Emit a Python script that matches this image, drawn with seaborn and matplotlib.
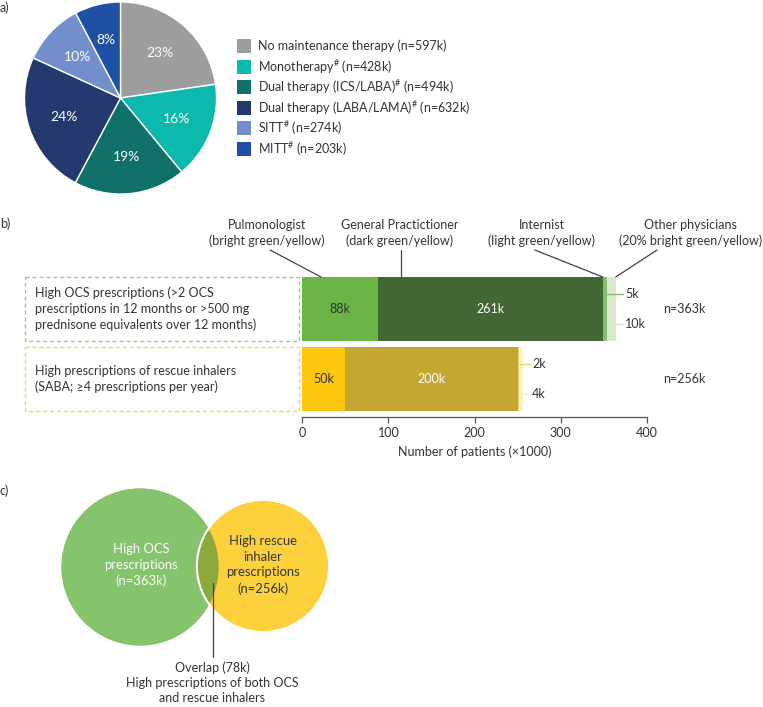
import matplotlib
matplotlib.use("Agg")
import matplotlib.pyplot as plt
from matplotlib.patches import Circle, Rectangle
import numpy as np
import pandas as pd
import seaborn as sns

# a) tratamiento de mantenimiento (n en miles)
therapy_labels = ["No maintenance therapy", "Monotherapy$^{\\#}$", "Dual therapy (ICS/LABA)$^{\\#}$",
                  "Dual therapy (LABA/LAMA)$^{\\#}$", "SITT$^{\\#}$", "MITT$^{\\#}$"]
therapy_n = [597, 428, 494, 632, 274, 203]
therapy_colors = ["#9d9d9d", "#0db9ad", "#10716a", "#243a6e", "#718fcb", "#2050a4"]

# b) prescripciones por medico (miles)
rows = ["High OCS", "High SABA"]
row_text = ["High OCS prescriptions (>2 OCS\nprescriptions in 12 months or >500 mg\nprednisone equivalents over 12 months)",
            "High prescriptions of rescue inhalers\n(SABA; \u22654 prescriptions per year)"]
row_totals = [363, 256]
pulmonologist = [88, 50]
general_pract = [261, 200]
internist = [5, 2]
other_phys = [10, 4]
physician_labels = ["Pulmonologist\n(bright green/yellow)", "General Practictioner\n(dark green/yellow)",
                    "Internist\n(light green/yellow)", "Other physicians\n(20% bright green/yellow)"]
green_cols = ["#6bb547", "#436734", "#86bb70", "#d7eacd"]
yellow_cols = ["#fdc70f", "#c4a633", "#eed27a", "#fcf1c6"]
x_ticks = [0, 100, 200, 300, 400]

# c) solapamiento
venn_n = [363, 256]
overlap_n = 78

sns.set_style("white")
plt.rcParams['font.family'] = ['Lato', 'DejaVu Sans']
plt.rcParams['mathtext.fontset'] = 'custom'
plt.rcParams['mathtext.rm'] = 'Lato'
txt = "#333333"
fs = 9

W, H = 763, 707
fig = plt.figure(figsize=(W / 100, H / 100), dpi=100)


def box(left, top, width, height):
    return [left / W, 1 - (top + height) / H, width / W, height / H]


# capa de fondo en pixeles
ov = fig.add_axes([0, 0, 1, 1])
ov.set_xlim(0, W)
ov.set_ylim(H, 0)
ov.axis("off")

ov.text(0, 8, "a)", fontsize=fs, color=txt, va="center")
ov.text(0, 224, "b)", fontsize=fs, color=txt, va="center")
ov.text(0, 491, "c)", fontsize=fs, color=txt, va="center")

# ---- a) pie
ax_pie = fig.add_axes(box(23.5, 1, 194, 194))
ax_pie.pie(therapy_n, colors=therapy_colors, startangle=90, counterclock=False,
           autopct=lambda p: f"{p:.0f}%", pctdistance=0.62,
           textprops={"color": "white", "fontsize": 10},
           wedgeprops={"edgecolor": "white", "linewidth": 1})
ax_pie.set_xlim(-1.01, 1.01)
ax_pie.set_ylim(-1.01, 1.01)

for i, (lab, n, c) in enumerate(zip(therapy_labels, therapy_n, therapy_colors)):
    yc = 46 + i * 20.6
    ov.add_patch(Rectangle((237, yc - 7), 14, 14, color=c, lw=0))
    ov.text(258, yc, f"{lab} (n={n}k)", fontsize=fs, color=txt, va="center")

# ---- b) barras apiladas
ax = fig.add_axes(box(302.3, 277, 344.4, 140))
ax.set_facecolor("none")
layers = [pulmonologist, general_pract, internist, other_phys]
cum = np.cumsum(layers, axis=0)
for i in range(3, -1, -1):
    df = pd.DataFrame({"row": rows, "value": cum[i]})
    sns.barplot(data=df, x="value", y="row", hue="row", palette=[green_cols[i], yellow_cols[i]],
                orient="h", width=0.914, saturation=1, errorbar=None, legend=False,
                linewidth=0, ax=ax)
ax.set_xlim(0, 400)
ax.set_ylim(1.543, -0.457)
ax.set_yticks([])
ax.set_ylabel("")
ax.set_xticks(x_ticks)
ax.set_xlabel("Number of patients (\u00d71000)", fontsize=fs, color=txt, labelpad=5)
for s in ["top", "right", "left"]:
    ax.spines[s].set_visible(False)
ax.spines["bottom"].set_color("#555555")
ax.spines["bottom"].set_linewidth(0.9)
ax.tick_params(axis="x", direction="out", length=4, width=0.9, color="#555555",
               labelsize=fs, labelcolor=txt, pad=3, bottom=True)

# etiquetas de segmentos
for r in range(2):
    cols = [green_cols, yellow_cols][r]
    ax.text(pulmonologist[r] / 2, r, f"{pulmonologist[r]}k", ha="center", va="center",
            fontsize=fs, color=txt)
    ax.text(pulmonologist[r] + general_pract[r] / 2, r, f"{general_pract[r]}k", ha="center",
            va="center", fontsize=fs, color="white")
    x_int = cum[1][r] + internist[r] / 2
    x_end = cum[3][r]
    ax.plot([x_int, x_end + 8], [r - 0.21, r - 0.21], color=cols[2], lw=1, clip_on=False)
    ax.plot([x_end, x_end + 8], [r + 0.22, r + 0.22], color=cols[3], lw=1, clip_on=False)
    ax.text(x_end + 11, r - 0.21, f"{internist[r]}k", va="center", fontsize=fs, color=txt)
    ax.text(x_end + 11, r + 0.22, f"{other_phys[r]}k", va="center", fontsize=fs, color=txt)
    ax.text(419, r, f"n={row_totals[r]}k", va="center", fontsize=fs, color=txt)
    # recuadro punteado con la descripcion
    ax.add_patch(Rectangle((-322, r - 0.457), 318, 0.914, fill=False,
                           edgecolor=["#98cf84", "#f6d45a"][r], lw=1, ls=(0, (3, 2)),
                           clip_on=False))
    ax.text(-310, r, row_text[r], va="center", ha="left", fontsize=fs, color=txt,
            linespacing=1.35)

# etiquetas de medicos con lineas guia
lab_x = [-41, 113.4, 278, 451]
line_from = [(-37.5, -0.843), (115.2, -0.843), (270, -0.843), (412, -0.843)]
line_to = [(21.7, -0.457), (115.2, -0.457), (349, -0.457), (364, -0.457)]
for lab, lx, p0, p1 in zip(physician_labels, lab_x, line_from, line_to):
    ax.text(lx, -1.09, lab, ha="center", va="center", fontsize=fs, color=txt,
            linespacing=1.3)
    ax.plot([p0[0], p1[0]], [p0[1], p1[1]], color="#444444", lw=0.9, clip_on=False)

# ---- c) diagrama de Venn
k = 4.13
r_ocs = k * np.sqrt(venn_n[0])
r_saba = k * np.sqrt(venn_n[1])
c_ocs = (140, 567)
c_saba = (263, 566)
ov.add_patch(Circle(c_ocs, r_ocs, color="#85c46c", lw=0))
ov.add_patch(Circle(c_saba, r_saba, color="#fdd13b", lw=0))
clip = Circle(c_saba, r_saba, transform=ov.transData)
lens = Circle(c_ocs, r_ocs, color="#8da83b", lw=0)
ov.add_patch(lens)
lens.set_clip_path(clip)
ov.add_patch(Circle(c_saba, r_saba, fill=False, edgecolor="white", lw=1.5))

ov.text(141, 565, f"High OCS\nprescriptions\n(n={venn_n[0]}k)", ha="center", va="center",
        fontsize=9.4, color="white", linespacing=1.35)
ov.text(263, 565, f"High rescue\ninhaler\nprescriptions\n(n={venn_n[1]}k)", ha="center",
        va="center", fontsize=9.4, color=txt, linespacing=1.35)
ov.plot([212.7, 212.7], [583, 657], color="#444444", lw=0.9)
ov.text(212, 683, f"Overlap ({overlap_n}k)\nHigh prescriptions of both OCS\nand rescue inhalers",
        ha="center", va="center", fontsize=fs, color=txt, linespacing=1.3)

fig.savefig("out.png", dpi=100)
